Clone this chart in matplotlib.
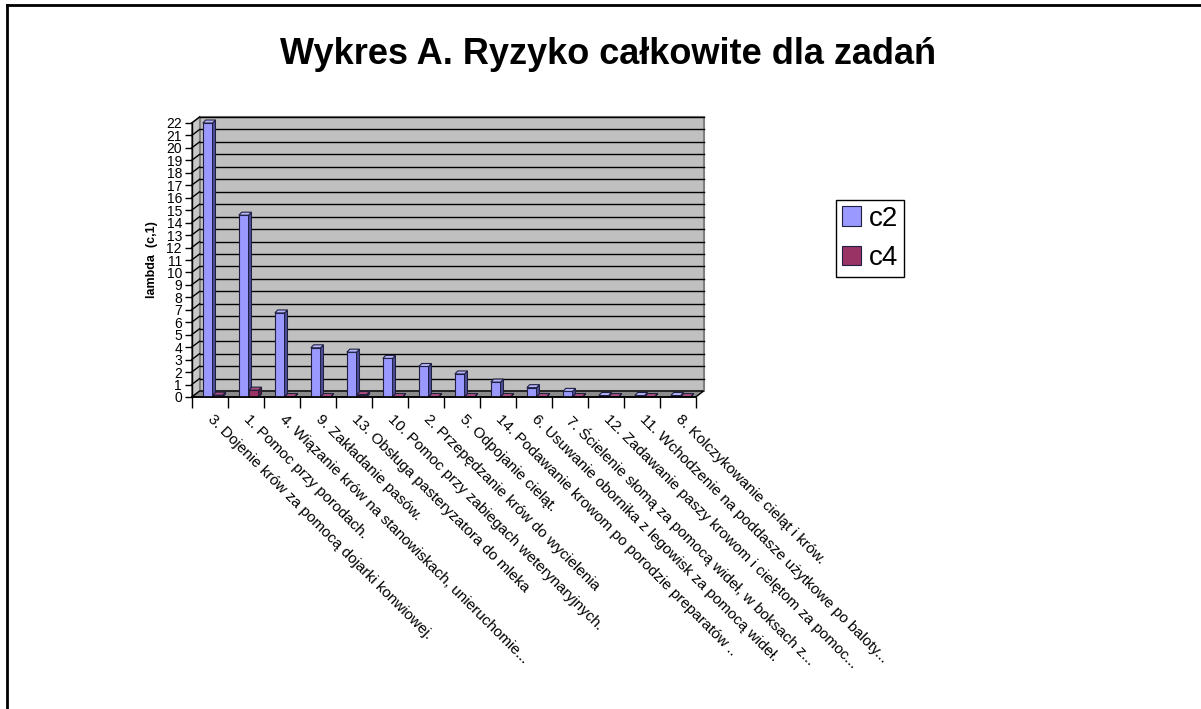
import matplotlib.pyplot as plt
from matplotlib.patches import Polygon
from matplotlib.lines import Line2D

plt.rcParams['font.family'] = ['Liberation Sans', 'DejaVu Sans']

# data
tasks = [
    "3. Dojenie krów za pomocą dojarki konwiowej.",
    "1. Pomoc przy porodach.",
    "4. Wiązanie krów na stanowiskach, unieruchomie...",
    "9. Zakładanie pasów.",
    "13. Obsługa pasteryzatora do mleka",
    "10. Pomoc przy zabiegach weterynaryjnych.",
    "2. Przepędzanie krów do wycielenia",
    "5. Odpojanie cieląt.",
    "14. Podawanie krowom po porodzie preparatów ..",
    "6. Usuwanie obornika z legowisk za pomocą wideł.",
    "7. Ścielenie słomą za pomocą wideł, w boksach z...",
    "12. Zadawanie paszy krowom i cielętom za pomoc...",
    "11. Wchodzenie na poddasze użytkowe po baloty...",
    "8. Kolczykowanie cieląt i krów.",
]
c2 = [22.0, 14.6, 6.75, 3.95, 3.6, 3.1, 2.45, 1.85, 1.2, 0.75, 0.45, 0.12, 0.12, 0.12]
c4 = [0.15, 0.55, 0.04, 0.04, 0.2, 0.04, 0.04, 0.04, 0.04, 0.04, 0.04, 0.04, 0.04, 0.04]
yticks = list(range(0, 23))

W, H = 1201, 709
fig = plt.figure(figsize=(W / 100, H / 100), dpi=100)
fig.patch.set_facecolor('white')

# frame around the chart (only top and left visible)
fig.add_artist(Line2D([7 / W, 7 / W], [0, 1 - 5 / H], color='black', lw=2))
fig.add_artist(Line2D([7 / W, 1], [1 - 5 / H, 1 - 5 / H], color='black', lw=2))

ax = fig.add_axes([191.7 / W, 1 - 397 / H, 504 / W, 274 / H])
n = len(tasks)
ax.set_xlim(0, n)
ax.set_ylim(0, 22)
ax.patch.set_visible(False)
for s in ['top', 'right', 'bottom']:
    ax.spines[s].set_visible(False)
ax.spines['left'].set_linewidth(1)

DX, DY = 0.22, 0.48  # depth of the 3d box

# back wall, side wall, floor
ax.add_patch(Polygon([(DX, DY), (n + DX, DY), (n + DX, 22 + DY), (DX, 22 + DY)],
                     closed=True, fc='#c0c0c0', ec='#808080', lw=1.5, zorder=0, clip_on=False))
ax.add_patch(Polygon([(0, 0), (DX, DY), (DX, 22 + DY), (0, 22)],
                     closed=True, fc='#c8c8c8', ec='#808080', lw=1, zorder=0, clip_on=False))
ax.add_patch(Polygon([(0, 0), (n, 0), (n + DX, DY), (DX, DY)],
                     closed=True, fc='#8c8c8c', ec='black', lw=1, zorder=1, clip_on=False))
for v in yticks[1:]:
    ax.plot([DX, n + DX], [v + DY, v + DY], color='black', lw=1, zorder=0.5, clip_on=False)
    ax.plot([0, DX], [v, v + DY], color='black', lw=1, zorder=0.5, clip_on=False)

# bars with a small 3d look
bw, bdx, bdy = 0.27, 0.08, 0.24
series = [(c2, 0.31, '#9999ff', '#5050a0', '#b8b8ff', 'c2'),
          (c4, 0.59, '#993366', '#5a1a3a', '#b05080', 'c4')]
handles = []
for i in range(n):
    for vals, off, fc, side, top, lab in series:
        x0 = i + off
        v = vals[i]
        b = ax.bar(x0, v, width=bw, align='edge', color=fc, edgecolor='#202040',
                   lw=0.8, zorder=3)
        ax.add_patch(Polygon([(x0 + bw, 0), (x0 + bw + bdx, bdy), (x0 + bw + bdx, v + bdy), (x0 + bw, v)],
                             closed=True, fc=side, ec='#202040', lw=0.8, zorder=3, clip_on=False))
        ax.add_patch(Polygon([(x0, v), (x0 + bdx, v + bdy), (x0 + bw + bdx, v + bdy), (x0 + bw, v)],
                             closed=True, fc=top, ec='#202040', lw=0.8, zorder=3, clip_on=False))
        if i == 0:
            handles.append((b, lab))

# front edge and category ticks
ax.plot([0, n], [0, 0], color='black', lw=1.2, zorder=4, clip_on=False)
ax.set_xticks(range(n + 1))
ax.set_xticklabels([])
ax.tick_params(axis='x', which='major', length=8, width=1, direction='out')

for i, t in enumerate(tasks):
    ax.annotate(t, xy=(i + 0.5, 0), xytext=(5, -15), textcoords='offset pixels',
                rotation=-45, ha='left', va='top', rotation_mode='anchor',
                fontsize=11, annotation_clip=False)

ax.set_yticks(yticks)
ax.tick_params(axis='y', length=5, width=1, direction='out', labelsize=10, pad=2)
ax.set_ylabel('lambda  (c,1)', fontsize=9, fontweight='bold', labelpad=6)

fig.text(608 / W, 1 - 55 / H, 'Wykres A. Ryzyko całkowite dla zadań',
         ha='center', va='center', fontsize=26, fontweight='bold')

leg = fig.legend([h for h, _ in handles], [l for _, l in handles],
                 loc='upper left', bbox_to_anchor=(836 / W, 1 - 200 / H),
                 fontsize=20, frameon=True, fancybox=False, framealpha=1,
                 handlelength=0.7, handleheight=0.7, handletextpad=0.3,
                 borderpad=0.2, labelspacing=0.5, borderaxespad=0)
leg.get_frame().set_edgecolor('black')
leg.get_frame().set_linewidth(1)

fig.savefig('out.png', dpi=100)
